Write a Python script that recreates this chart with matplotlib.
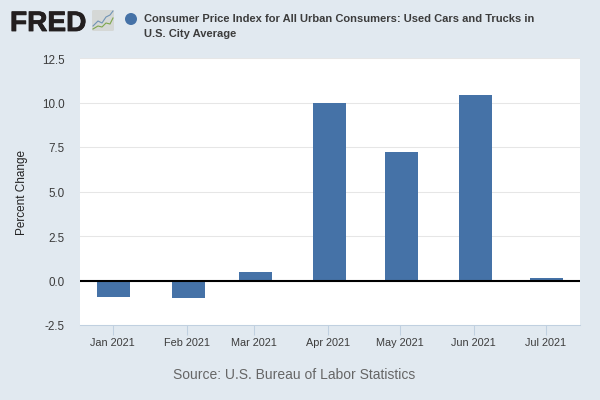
import numpy as np
import matplotlib
matplotlib.use('Agg')
import matplotlib.pyplot as plt
import matplotlib.dates as mdates
import matplotlib.patheffects as pe
from matplotlib.patches import Circle, FancyBboxPatch
from matplotlib.transforms import ScaledTranslation
from datetime import date

plt.rcParams['font.family'] = ['Liberation Sans', 'DejaVu Sans']

months = [date(2021, 1, 1), date(2021, 2, 1), date(2021, 3, 1), date(2021, 4, 1),
          date(2021, 5, 1), date(2021, 6, 1), date(2021, 7, 1)]
month_labels = ['Jan 2021', 'Feb 2021', 'Mar 2021', 'Apr 2021', 'May 2021', 'Jun 2021', 'Jul 2021']
pct_change = [-0.9, -0.97, 0.5, 10.0, 7.2, 10.42, 0.15]
yticks = [-2.5, 0.0, 2.5, 5.0, 7.5, 10.0, 12.5]

title = 'Consumer Price Index for All Urban Consumers: Used Cars and Trucks in\nU.S. City Average'
bg = '#e1e9f0'
blue = '#4572a7'

fig = plt.figure(figsize=(6, 4), dpi=100, facecolor=bg)
# plot box is x 80-580, y 58-325 in pixels
ax = fig.add_axes([80 / 600, 1 - 325 / 400, 500 / 600, 267 / 400])

x = mdates.date2num(months)
ax.bar(x + 0.6, pct_change, width=13.8, color=blue, zorder=2)
ax.axhline(0, color='black', lw=1.5, zorder=3)

ax.set_xlim(x[0] - 13.6, x[-1] + 14.4)
ax.set_ylim(-2.5, 12.5)
ax.set_xticks(x)
ax.set_xticklabels(month_labels)
ax.set_yticks(yticks)
ax.set_yticklabels(['%.1f' % v for v in yticks])
ax.grid(axis='y', color='#e6e6e6', lw=0.75, zorder=1)
ax.set_axisbelow(True)

for s in ['top', 'left', 'right']:
    ax.spines[s].set_visible(False)
ax.spines['bottom'].set_color('#c0d0e0')
ax.spines['bottom'].set_linewidth(0.75)
ax.tick_params(axis='x', length=7, width=0.75, color='#c0d0e0', labelcolor='#3c3c3c',
               labelsize=7.8, pad=2.5)
ax.tick_params(axis='y', length=0, labelcolor='#3c3c3c', labelsize=8.4, pad=11)
# y labels sit about 1px below their gridlines
for lab in ax.get_yticklabels():
    lab.set_transform(lab.get_transform() + ScaledTranslation(0, -1 / 100, fig.dpi_scale_trans))

fig.text(22 / 600, 1 - 193 / 400, 'Percent Change', rotation=90, ha='center', va='center',
         fontsize=8.5, color='#222222')
fig.text(294.5 / 600, 1 - 375 / 400, 'Source: U.S. Bureau of Labor Statistics', ha='center',
         va='center', fontsize=10, color='#666666')
fig.text(144 / 600, 1 - 26.5 / 400, title, ha='left', va='center', fontsize=8,
         fontweight='bold', color='#3c3c3c', linespacing=1.55)

# header: logo and legend dot, drawn in pixel coordinates
hdr = fig.add_axes([0, 0, 1, 1], facecolor='none')
hdr.set_xlim(0, 600)
hdr.set_ylim(400, 0)
hdr.axis('off')
hdr.text(10, 31, 'FRED', fontsize=20.2, fontweight='bold', color='#231f20', va='baseline', ha='left',
         path_effects=[pe.withStroke(linewidth=0.6, foreground='#231f20')])
hdr.add_patch(FancyBboxPatch((92, 10), 22, 21, boxstyle='round,pad=0,rounding_size=1.5',
                             fc='#d5d8d6', ec='none'))
hdr.plot([93, 98, 102, 106, 110, 113], [26, 21, 23, 17, 15, 11], color='#6f93b5', lw=0.8)
hdr.plot([93, 98, 102, 106, 110, 113], [29, 26, 27, 23, 24, 18], color='#7ea64e', lw=0.8)
hdr.add_patch(Circle((131, 19), 6, fc=blue, ec='none'))

fig.savefig('out.png', dpi=100, facecolor=bg)
